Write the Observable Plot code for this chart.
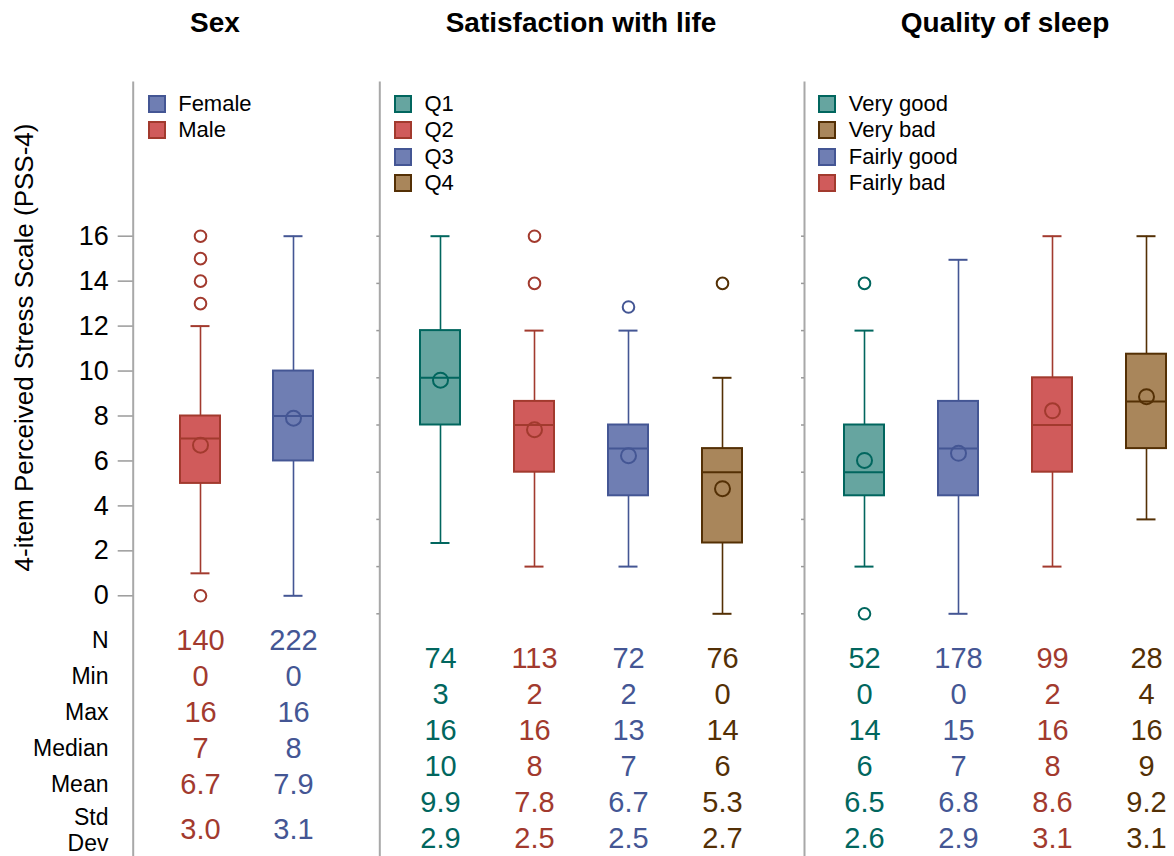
<!DOCTYPE html>
<html><head><meta charset="utf-8">
<script src="https://cdn.jsdelivr.net/npm/d3@7"></script>
<script src="https://cdn.jsdelivr.net/npm/@observablehq/plot@0.6"></script>
<style>
body{margin:0;background:#fff;font-family:"Liberation Sans",Arial,Helvetica,sans-serif;}
#chart{position:relative;width:1174px;height:856px;overflow:hidden;background:#fff;}
#chart svg{position:absolute;left:0;top:0;}
.title{position:absolute;font-weight:bold;font-size:28px;transform:translate(-50%,-50%);white-space:nowrap;color:#000;}
.legend{position:absolute;font-size:22px;color:#000;}
.legend .row{display:flex;align-items:center;height:26.3px;white-space:nowrap;}
.legend .sw{width:18px;height:18px;border:2px solid;box-sizing:border-box;margin-right:12.5px;}
</style></head><body><div id="chart"></div>
<script>
// ---------- data ----------
const yTicks = [0, 2, 4, 6, 8, 10, 12, 14, 16];
const rowNames = ["N", "Min", "Max", "Median", "Mean", "Std Dev"];

// Sex
const sexGroups = ["Male", "Female"];
const sexColors = ["red", "blue"];
const sexLow = [1, 0];
const sexQ1 = [5, 6];
const sexMedian = [7, 8];
const sexQ3 = [8, 10];
const sexHigh = [12, 16];
const sexMean = [6.7, 7.9];
const sexOutliers = [[0, 13, 14, 15, 16], []];
const sexLegend = ["Female", "Male"];
const sexLegendColors = ["blue", "red"];
const sexN = [140, 222];
const sexMinV = [0, 0];
const sexMaxV = [16, 16];
const sexMedianV = [7, 8];
const sexMeanV = [6.7, 7.9];
const sexStdV = [3.0, 3.1];

// Satisfaction with life
const satGroups = ["Q1", "Q2", "Q3", "Q4"];
const satColors = ["teal", "red", "blue", "brown"];
const satLow = [3, 2, 2, 0];
const satQ1 = [8, 6, 5, 3];
const satMedian = [10, 8, 7, 6];
const satQ3 = [12, 9, 8, 7];
const satHigh = [16, 12, 12, 10];
const satMean = [9.9, 7.8, 6.7, 5.3];
const satOutliers = [[], [14, 16], [13], [14]];
const satLegend = ["Q1", "Q2", "Q3", "Q4"];
const satLegendColors = ["teal", "red", "blue", "brown"];
const satN = [74, 113, 72, 76];
const satMinV = [3, 2, 2, 0];
const satMaxV = [16, 16, 13, 14];
const satMedianV = [10, 8, 7, 6];
const satMeanV = [9.9, 7.8, 6.7, 5.3];
const satStdV = [2.9, 2.5, 2.5, 2.7];

// Quality of sleep
const sleepGroups = ["Very good", "Fairly good", "Fairly bad", "Very bad"];
const sleepColors = ["teal", "blue", "red", "brown"];
const sleepLow = [2, 0, 2, 4];
const sleepQ1 = [5, 5, 6, 7];
const sleepMedian = [6, 7, 8, 9];
const sleepQ3 = [8, 9, 10, 11];
const sleepHigh = [12, 15, 16, 16];
const sleepMean = [6.5, 6.8, 8.6, 9.2];
const sleepOutliers = [[0, 14], [], [], []];
const sleepLegend = ["Very good", "Very bad", "Fairly good", "Fairly bad"];
const sleepLegendColors = ["teal", "brown", "blue", "red"];
const sleepN = [52, 178, 99, 28];
const sleepMinV = [0, 0, 2, 4];
const sleepMaxV = [14, 15, 16, 16];
const sleepMedianV = [6, 7, 8, 9];
const sleepMeanV = [6.5, 6.8, 8.6, 9.2];
const sleepStdV = [2.6, 2.9, 3.1, 3.1];

// ---------- styles / layout ----------
const FONT = '"Liberation Sans", Arial, Helvetica, sans-serif';
const PAL = {
  blue: {fill: "#6F7EB3", line: "#445694"},
  red: {fill: "#D05B5B", line: "#A23A2E"},
  teal: {fill: "#66A5A0", line: "#01665E"},
  brown: {fill: "#A9865B", line: "#543005"}
};
const W = 1174, H = 856;

const panels = [
  {title: "Sex", groups: sexGroups, colors: sexColors, low: sexLow, q1: sexQ1, median: sexMedian, q3: sexQ3, high: sexHigh, mean: sexMean, outliers: sexOutliers,
   legend: sexLegend, legendColors: sexLegendColors, table: [sexN, sexMinV, sexMaxV, sexMedianV, sexMeanV, sexStdV],
   L: {sep: 132.7, right: 379.3, xr: [179.3, 312.7], y0: 595.3, y16: 235.7, rows: [640, 820.3], stdShift: 9, titleX: 215, legendX: 147.7, labels: true}},
  {title: "Satisfaction with life", groups: satGroups, colors: satColors, low: satLow, q1: satQ1, median: satMedian, q3: satQ3, high: satHigh, mean: satMean, outliers: satOutliers,
   legend: satLegend, legendColors: satLegendColors, table: [satN, satMinV, satMaxV, satMedianV, satMeanV, satStdV],
   L: {sep: 379.3, right: 804, xr: [420.3, 742.7], y0: 613.3, y16: 235.7, rows: [657.7, 838.3], stdShift: 0, titleX: 581, legendX: 394, labels: false}},
  {title: "Quality of sleep", groups: sleepGroups, colors: sleepColors, low: sleepLow, q1: sleepQ1, median: sleepMedian, q3: sleepQ3, high: sleepHigh, mean: sleepMean, outliers: sleepOutliers,
   legend: sleepLegend, legendColors: sleepLegendColors, table: [sleepN, sleepMinV, sleepMaxV, sleepMedianV, sleepMeanV, sleepStdV],
   L: {sep: 804, right: 1174, xr: [844.3, 1166.7], y0: 613.3, y16: 235.7, rows: [657.7, 838.3], stdShift: 0, titleX: 1005, legendX: 818.3, labels: false}}
];

const chart = document.getElementById("chart");

function common(L) {
  return {
    width: W, height: H,
    marginLeft: L.sep, marginRight: W - L.right, marginTop: 82, marginBottom: 0,
    style: {background: "transparent", fontFamily: FONT, overflow: "visible"},
    color: {type: "identity"}
  };
}

function boxPlot(p) {
  const L = p.L;
  const boxes = p.groups.map((g, i) => ({
    group: g, low: p.low[i], q1: p.q1[i], median: p.median[i], q3: p.q3[i], high: p.high[i], mean: p.mean[i],
    fill: PAL[p.colors[i]].fill, line: PAL[p.colors[i]].line
  }));
  const caps = boxes.flatMap(b => [{group: b.group, y: b.low, line: b.line}, {group: b.group, y: b.high, line: b.line}]);
  const outs = p.groups.flatMap((g, i) => p.outliers[i].map(v => ({group: g, y: v, line: PAL[p.colors[i]].line})));
  return Plot.plot({
    ...common(L),
    x: {type: "band", domain: p.groups, range: L.xr, paddingInner: 0.573, paddingOuter: 0, axis: null},
    y: {domain: [0, 16], range: [L.y0, L.y16], axis: null},
    marks: [
      Plot.frame({anchor: "left", stroke: "#a8a8a8", strokeWidth: 2}),
      Plot.axisY({ticks: yTicks, tickSize: L.labels ? 15 : 3, tickPadding: 9.5, fontSize: 27, color: "#000", stroke: "#9a9a9a", strokeWidth: 1.5,
                  tickFormat: L.labels ? (d => String(d)) : (() => ""), label: null}),
      Plot.ruleX(boxes, {x: "group", y1: "low", y2: "high", stroke: "line", strokeWidth: 1.6}),
      Plot.barY(boxes, {x: "group", y1: "q1", y2: "q3", fill: "fill", stroke: "line", strokeWidth: 2}),
      Plot.tickY(boxes, {x: "group", y: "median", stroke: "line", strokeWidth: 2}),
      Plot.tickY(caps, {x: "group", y: "y", stroke: "line", strokeWidth: 2, insetLeft: 10.5, insetRight: 10.5}),
      Plot.dot(boxes, {x: "group", y: "mean", r: 7.5, stroke: "line", strokeWidth: 2, fill: "none"}),
      Plot.dot(outs, {x: "group", y: "y", r: 5.8, stroke: "line", strokeWidth: 2, fill: "none"})
    ]
  });
}

function tablePlot(p) {
  const L = p.L;
  const cells = rowNames.flatMap((r, ri) => p.groups.map((g, i) => {
    const v = p.table[ri][i];
    return {row: r, group: g, text: (r === "Mean" || r === "Std Dev") ? v.toFixed(1) : String(v), line: PAL[p.colors[i]].line};
  }));
  const marks = [
    Plot.text(cells.filter(c => c.row !== "Std Dev"), {x: "group", y: "row", text: "text", fill: "line", fontSize: 29}),
    Plot.text(cells.filter(c => c.row === "Std Dev"), {x: "group", y: "row", text: "text", fill: "line", fontSize: 29, dy: L.stdShift})
  ];
  if (L.labels) {
    marks.push(Plot.text(rowNames.filter(r => r !== "Std Dev"), {y: d => d, text: d => d, frameAnchor: "left", textAnchor: "end", dx: -24.7, fontSize: 23, fill: "#000"}));
    marks.push(Plot.text(["Std Dev"], {y: d => d, text: d => d.replace(" ", "\n"), frameAnchor: "left", textAnchor: "end", dx: -24.7, dy: L.stdShift, fontSize: 23, lineHeight: 1.15, fill: "#000"}));
  }
  return Plot.plot({
    ...common(L),
    x: {type: "band", domain: p.groups, range: L.xr, paddingInner: 0.573, paddingOuter: 0, axis: null},
    y: {type: "point", domain: rowNames, range: L.rows, padding: 0, axis: null},
    marks
  });
}

for (const p of panels) {
  chart.appendChild(boxPlot(p));
  chart.appendChild(tablePlot(p));
  const t = document.createElement("div");
  t.className = "title";
  t.textContent = p.title;
  t.style.left = p.L.titleX + "px";
  t.style.top = "23px";
  chart.appendChild(t);
  const lg = document.createElement("div");
  lg.className = "legend";
  lg.style.left = p.L.legendX + "px";
  lg.style.top = (104 - 13.15) + "px";
  p.legend.forEach((name, i) => {
    const row = document.createElement("div");
    row.className = "row";
    const sw = document.createElement("div");
    sw.className = "sw";
    sw.style.background = PAL[p.legendColors[i]].fill;
    sw.style.borderColor = PAL[p.legendColors[i]].line;
    const tx = document.createElement("span");
    tx.textContent = name;
    row.appendChild(sw);
    row.appendChild(tx);
    lg.appendChild(row);
  });
  chart.appendChild(lg);
}

// y-axis title (shared, left)
const ns = "http://www.w3.org/2000/svg";
const ysvg = document.createElementNS(ns, "svg");
ysvg.setAttribute("width", 60); ysvg.setAttribute("height", H);
ysvg.style.overflow = "visible";
const yt = document.createElementNS(ns, "text");
yt.setAttribute("transform", "translate(33,347.5) rotate(-90)");
yt.setAttribute("text-anchor", "middle");
yt.setAttribute("font-size", "26");
yt.setAttribute("font-family", FONT);
yt.setAttribute("fill", "#000");
yt.textContent = "4-item Perceived Stress Scale (PSS-4)";
ysvg.appendChild(yt);
chart.appendChild(ysvg);
</script>
</body></html>
